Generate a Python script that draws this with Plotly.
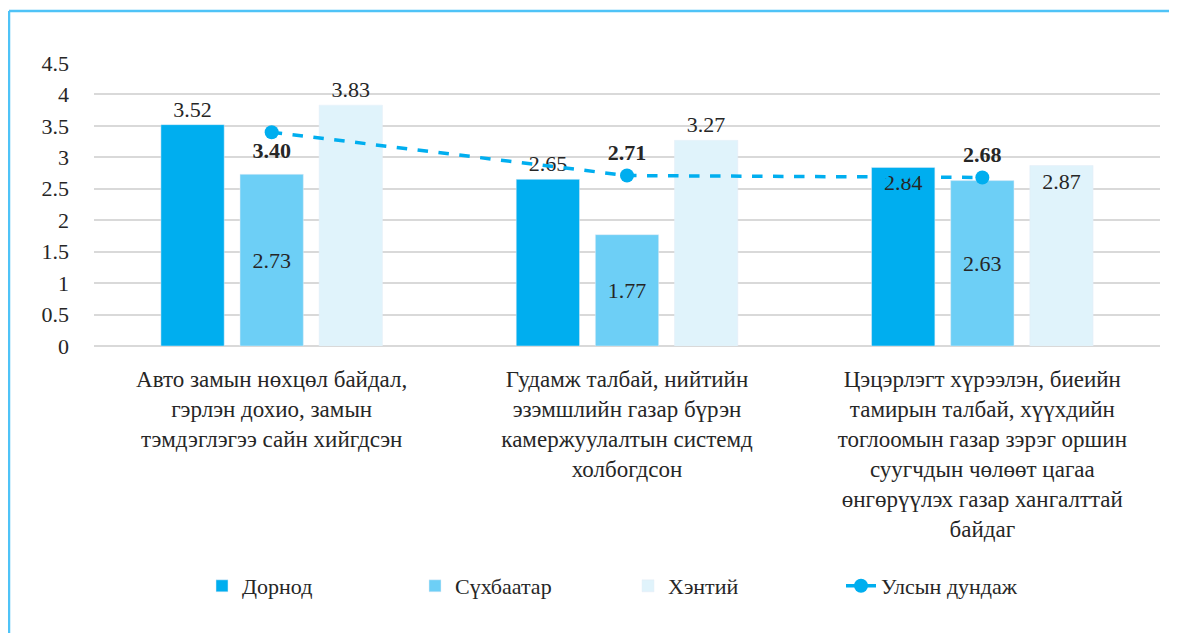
import plotly.graph_objects as go

categories = [
    "Авто замын нөхцөл байдал,<br>гэрлэн дохио, замын<br>тэмдэглэгээ сайн хийгдсэн",
    "Гудамж талбай, нийтийн<br>эзэмшлийн газар бүрэн<br>камержуулалтын системд<br>холбогдсон",
    "Цэцэрлэгт хүрээлэн, биеийн<br>тамирын талбай, хүүхдийн<br>тоглоомын газар зэрэг оршин<br>суугчдын чөлөөт цагаа<br>өнгөрүүлэх газар хангалттай<br>байдаг",
]
dornod = [3.52, 2.65, 2.84]
sukhbaatar = [2.73, 1.77, 2.63]
khentii = [3.83, 3.27, 2.87]
national = [3.40, 2.71, 2.68]
y_ticks = [0, 0.5, 1, 1.5, 2, 2.5, 3, 3.5, 4, 4.5]

FONT = "Liberation Serif"
TXT = "#262626"

fig = go.Figure()
fig.add_trace(go.Bar(
    name="Дорнод", x=categories, y=dornod, marker_color="#00AEEF",
    text=[f"{v:.2f}" for v in dornod],
    textposition=["outside", "outside", "inside"], insidetextanchor="end",
    textfont=dict(family=FONT, size=22, color=TXT), cliponaxis=False,
))
fig.add_trace(go.Bar(
    name="Сүхбаатар", x=categories, y=sukhbaatar, marker_color="#6DCFF6",
    text=[f"{v:.2f}" for v in sukhbaatar],
    textposition="inside", insidetextanchor="middle",
    textfont=dict(family=FONT, size=22, color=TXT),
))
fig.add_trace(go.Bar(
    name="Хэнтий", x=categories, y=khentii, marker_color="#E0F3FB",
    text=[f"{v:.2f}" for v in khentii],
    textposition=["outside", "outside", "inside"], insidetextanchor="end",
    textfont=dict(family=FONT, size=22, color=TXT), cliponaxis=False,
))
fig.add_trace(go.Scatter(
    name="Улсын дундаж", x=categories, y=national, mode="lines+markers+text",
    line=dict(color="#00AEEF", width=3.5, dash="dash"),
    marker=dict(size=14, color="#00AEEF"),
    text=[f"<b>{v:.2f}</b>" for v in national],
    textposition=["bottom center", "top center", "top center"],
    textfont=dict(family=FONT, size=22, color=TXT), cliponaxis=False,
))

# page body has an 8px margin; work in figure pixel coords
W, H = 1169, 625
OFF = 8
px0, px1, py0, py1 = 94 - OFF, 1160 - OFF, 63 - OFF, 346 - OFF
def xp(p):
    return (p - OFF - px0) / (px1 - px0)
def yp(p):
    return (py1 - (p - OFF)) / (py1 - py0)
shapes = [
    dict(type="line", xref="paper", yref="paper", x0=xp(9), x1=xp(1177), y0=yp(11), y1=yp(11),
         line=dict(color="#4FC3F7", width=2.5)),
    dict(type="line", xref="paper", yref="paper", x0=xp(9), x1=xp(9), y0=yp(11), y1=yp(640),
         line=dict(color="#4FC3F7", width=2.5)),
]

fig.update_layout(
    width=W, height=H,
    margin=dict(l=px0, r=W - px1, t=py0, b=H - py1, autoexpand=False),
    paper_bgcolor="white", plot_bgcolor="white",
    barmode="group", bargap=0.332, bargroupgap=0.2,
    font=dict(family=FONT, size=22, color=TXT),
    showlegend=True,
    legend=dict(orientation="h", x=xp(628), xanchor="center", y=yp(586), yanchor="middle",
                font=dict(family=FONT, size=22, color=TXT), entrywidth=168, entrywidthmode="pixels",
                itemwidth=30, traceorder="normal"),
    shapes=shapes,
)
fig.update_yaxes(range=[0, 4.5], tickvals=y_ticks, ticktext=[f"{t:g}" for t in y_ticks],
                 showgrid=True, gridcolor="#D9D9D9", gridwidth=1.5, zeroline=True,
                 zerolinecolor="#D9D9D9", zerolinewidth=1.5, showline=False,
                 ticklabelstandoff=24, tickfont=dict(family=FONT, size=22, color=TXT))
fig.update_xaxes(showgrid=False, showline=False, ticks="", ticklabelstandoff=17,
                 tickfont=dict(family=FONT, size=23, color=TXT))

fig.write_html("out.html")
